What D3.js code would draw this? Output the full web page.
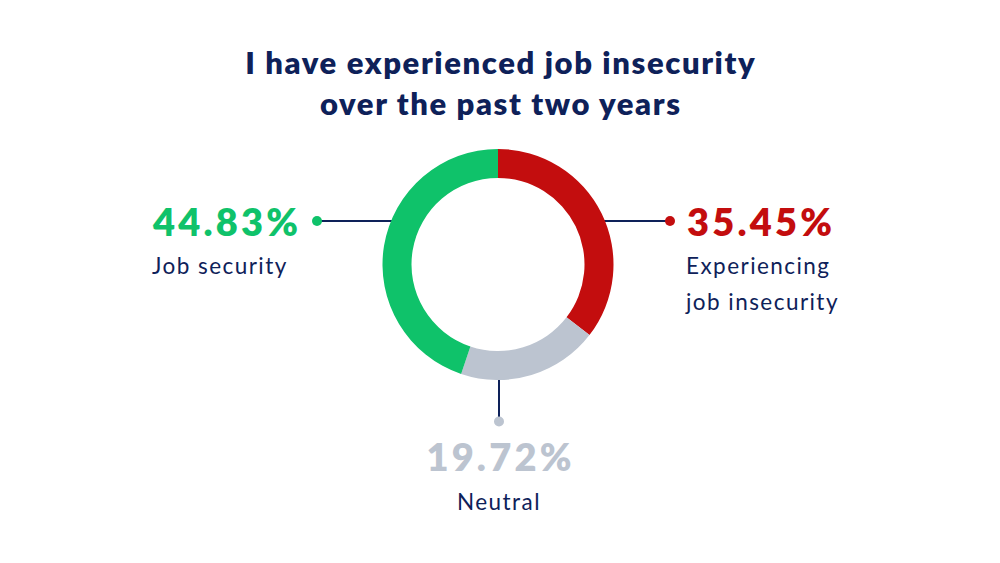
<!DOCTYPE html>
<html>
<head>
<meta charset="utf-8">
<script src="https://cdn.jsdelivr.net/npm/d3@7"></script>
<style>
  html, body { margin: 0; padding: 0; background: #fff; }
  svg { display: block; }
  text { font-family: Lato, "Noto Sans", sans-serif; }
</style>
</head>
<body>
<div id="chart"></div>
<script>
// data
const categories = ["Experiencing job insecurity", "Neutral", "Job security"];
const values = [35.45, 19.72, 44.83];
const valueLabels = ["35.45%", "19.72%", "44.83%"];
const labelLines = [["Experiencing", "job insecurity"], ["Neutral"], ["Job security"]];
const colors = ["#c30d0e", "#bcc4d0", "#0fc26a"];
const titleLines = ["I have experienced job insecurity", "over the past two years"];

const width = 1000;
const height = 563;
const navy = "#0e2159";
const cx = 498;
const cy = 264.5;
const outerR = 115.5;
const innerR = 86.5;

// where each label sits, relative to the donut centre
const layout = [
  { dy: -43.5, side: "right", textX: 687 },
  { side: "bottom", dotY: 421.5 },
  { dy: -43.5, side: "left", textX: 153 }
];

const svg = d3
  .select("#chart")
  .append("svg")
  .attr("width", width)
  .attr("height", height)
  .attr("viewBox", `0 0 ${width} ${height}`);

// title
svg
  .append("g")
  .selectAll("text")
  .data(titleLines)
  .enter()
  .append("text")
  .attr("x", width / 2 + 0.8)
  .attr("y", (d, i) => 74 + i * 41)
  .attr("text-anchor", "middle")
  .attr("fill", navy)
  .style("font-size", "31px")
  .style("font-weight", 800)
  .style("letter-spacing", "1.6px")
  .text((d) => d);

const pieGenerator = d3.pie().sort(null).value((d) => d);
const arcs = pieGenerator(values);
const arcGenerator = d3.arc().innerRadius(innerR).outerRadius(outerR);

const g = svg.append("g").attr("transform", `translate(${cx}, ${cy})`);

// leader lines + dots (drawn under the ring)
const leaders = g.append("g");
arcs.forEach((a, i) => {
  const l = layout[i];
  let x1, y1, x2, y2;
  if (l.side === "bottom") {
    x1 = 1; y1 = outerR - 2;
    x2 = 1; y2 = l.dotY - cy;
  } else {
    const edge = Math.sqrt(outerR * outerR - l.dy * l.dy) - 2;
    y1 = y2 = l.dy;
    x1 = l.side === "right" ? edge : -edge;
    x2 = l.side === "right" ? 670 - cx : 317 - cx;
  }
  leaders
    .append("line")
    .attr("x1", x1)
    .attr("y1", y1)
    .attr("x2", x2)
    .attr("y2", y2)
    .attr("stroke", navy)
    .attr("stroke-width", 2);
  leaders
    .append("circle")
    .attr("cx", x2)
    .attr("cy", y2)
    .attr("r", 5)
    .attr("fill", colors[i]);
});

g.selectAll("path")
  .data(arcs)
  .enter()
  .append("path")
  .attr("d", arcGenerator)
  .attr("fill", (d, i) => colors[i]);

// labels
arcs.forEach((a, i) => {
  const l = layout[i];
  let x, y, anchor;
  if (l.side === "bottom") {
    x = cx + 1; y = 471; anchor = "middle";
  } else {
    x = l.textX; y = 235.5; anchor = "start";
  }
  svg
    .append("text")
    .attr("x", anchor === "middle" ? x + 1.5 : x)
    .attr("y", y)
    .attr("text-anchor", anchor)
    .attr("fill", colors[i])
    .style("font-size", "38px")
    .style("font-weight", 800)
    .style("letter-spacing", "3.2px")
    .text(valueLabels[i]);
  svg
    .append("g")
    .selectAll("text")
    .data(labelLines[i])
    .enter()
    .append("text")
    .attr("x", anchor === "middle" ? x : x - 1)
    .attr("y", (d, j) => (l.side === "bottom" ? 510 : 274) + j * 35.5)
    .attr("text-anchor", anchor)
    .attr("fill", navy)
    .style("font-size", "22.5px")
    .style("letter-spacing", "1.45px")
    .text((d) => d);
});
</script>
</body>
</html>
